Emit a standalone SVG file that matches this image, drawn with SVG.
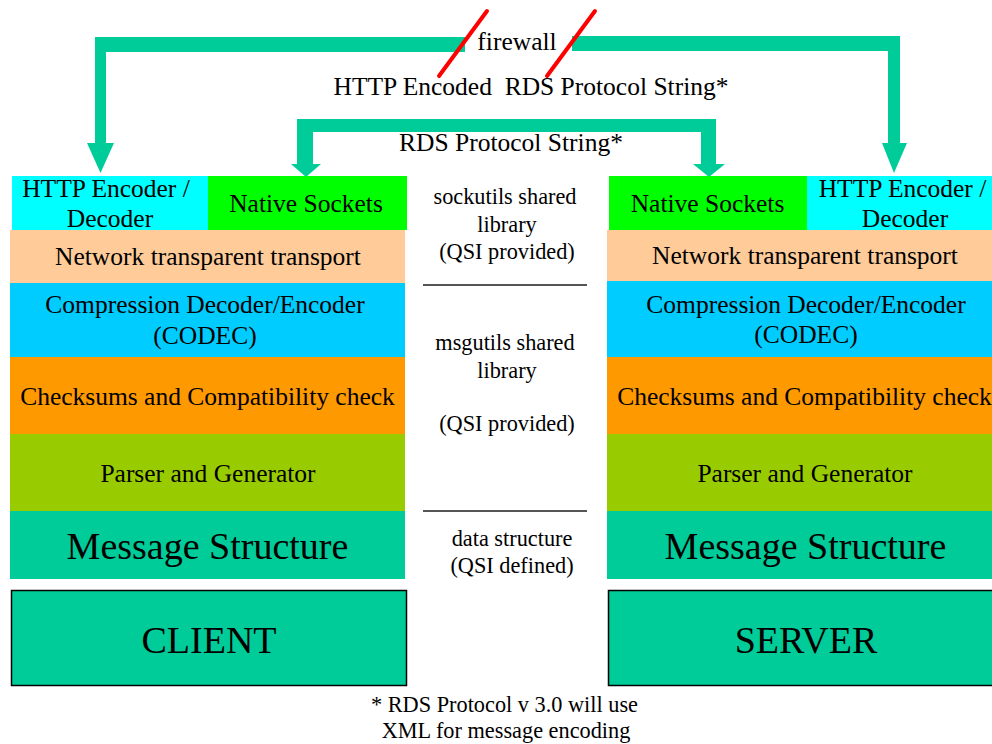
<svg xmlns="http://www.w3.org/2000/svg" width="992" height="744" viewBox="0 0 992 744">
<style>
text{fill:#000;text-anchor:middle}
.t{font-size:25.5px}
.s{font-size:22.3px}
.b{font-size:38px}
.conn{fill:#00CC99}
.fw{stroke:#FF0000;stroke-width:4;stroke-linecap:round;fill:none}
.sep{stroke:#555;stroke-width:2}
</style>
<rect width="992" height="744" fill="#fff"/>
<g id="connectors">
<path class="conn" d="M95,37 H465 V52 H106 V143 H114 L100.5,173 L87,143 H95 Z"/>
<path class="conn" d="M572,36 H900 V143 H907 L894,173 L882,143 H888 V51 H572 Z"/>
<path class="conn" d="M297,119 H716 V164 H725 L709,177 L693,164 H701 V132 H313 V164 H321 L306,177 L291,164 H297 Z"/>
<line class="fw" x1="487" y1="11" x2="439" y2="76"/>
<line class="fw" x1="595" y1="11" x2="547" y2="76"/>
</g>
<g font-family="'Liberation Serif', 'Times New Roman', 'DejaVu Serif', serif">
<g id="labels">
<text class="t" x="517" y="50">firewall</text>
<text class="t" x="531" y="95" xml:space="preserve">HTTP Encoded  RDS Protocol String*</text>
<text class="t" x="511" y="151">RDS Protocol String*</text>
</g>
<g id="client-http">
<rect x="12" y="176" width="196" height="54" fill="#00FFFF"/>
<text class="t" x="106" y="197">HTTP Encoder /</text>
<text class="t" x="110" y="227">Decoder</text>
</g>
<g id="client-sockets">
<rect x="208" y="176" width="199" height="54" fill="#00FF00"/>
<text class="t" x="306" y="212">Native Sockets</text>
</g>
<g id="client-transport">
<rect x="10" y="230" width="395" height="53" fill="#FFCC99"/>
<text class="t" x="208" y="265">Network transparent transport</text>
</g>
<g id="client-codec">
<rect x="10" y="283" width="395" height="74" fill="#00CCFF"/>
<text class="t" x="205" y="313">Compression Decoder/Encoder</text>
<text class="t" x="205" y="344">(CODEC)</text>
</g>
<g id="client-checksums">
<rect x="10" y="357" width="395" height="77" fill="#FF9900"/>
<text class="t" x="207.5" y="405">Checksums and Compatibility check</text>
</g>
<g id="client-parser">
<rect x="10" y="434" width="395" height="77" fill="#99CC00"/>
<text class="t" x="208" y="482">Parser and Generator</text>
</g>
<g id="client-message">
<rect x="10" y="511" width="395" height="68" fill="#00CC99"/>
<text class="b" x="207.5" y="559">Message Structure</text>
</g>
<g id="client">
<rect x="11.5" y="590.5" width="395" height="95" fill="#00CC99" stroke="#000" stroke-width="1.5"/>
<text class="b" x="209" y="653">CLIENT</text>
</g>
<g id="server-sockets">
<rect x="609" y="176" width="198" height="54" fill="#00FF00"/>
<text class="t" x="707.5" y="212">Native Sockets</text>
</g>
<g id="server-http">
<rect x="807" y="176" width="196" height="54" fill="#00FFFF"/>
<text class="t" x="902.5" y="197">HTTP Encoder /</text>
<text class="t" x="905" y="227">Decoder</text>
</g>
<g id="server-transport">
<rect x="607" y="230" width="396" height="51" fill="#FFCC99"/>
<text class="t" x="805" y="264">Network transparent transport</text>
</g>
<g id="server-codec">
<rect x="607" y="281" width="396" height="76" fill="#00CCFF"/>
<text class="t" x="806" y="313">Compression Decoder/Encoder</text>
<text class="t" x="806" y="343">(CODEC)</text>
</g>
<g id="server-checksums">
<rect x="607" y="357" width="396" height="77" fill="#FF9900"/>
<text class="t" x="804.5" y="405">Checksums and Compatibility check</text>
</g>
<g id="server-parser">
<rect x="607" y="434" width="396" height="77" fill="#99CC00"/>
<text class="t" x="805" y="482">Parser and Generator</text>
</g>
<g id="server-message">
<rect x="607" y="511" width="396" height="68" fill="#00CC99"/>
<text class="b" x="805.5" y="559">Message Structure</text>
</g>
<g id="server">
<rect x="608.5" y="590.5" width="396" height="95" fill="#00CC99" stroke="#000" stroke-width="1.5"/>
<text class="b" x="806" y="653">SERVER</text>
</g>
<g id="middle-notes">
<text class="s" x="505" y="204">sockutils shared</text>
<text class="s" x="507" y="232">library</text>
<text class="s" x="507" y="259">(QSI provided)</text>
<line class="sep" x1="423" y1="285" x2="587" y2="285"/>
<text class="s" x="505" y="350">msgutils shared</text>
<text class="s" x="507" y="378">library</text>
<text class="s" x="507" y="431">(QSI provided)</text>
<line class="sep" x1="423" y1="511" x2="587" y2="511"/>
<text class="s" x="512" y="546">data structure</text>
<text class="s" x="512" y="573">(QSI defined)</text>
</g>
<g id="footnote">
<text class="s" x="504.5" y="712">* RDS Protocol v 3.0 will use</text>
<text class="s" x="506" y="738">XML for message encoding</text>
</g>
</g>
</svg>
